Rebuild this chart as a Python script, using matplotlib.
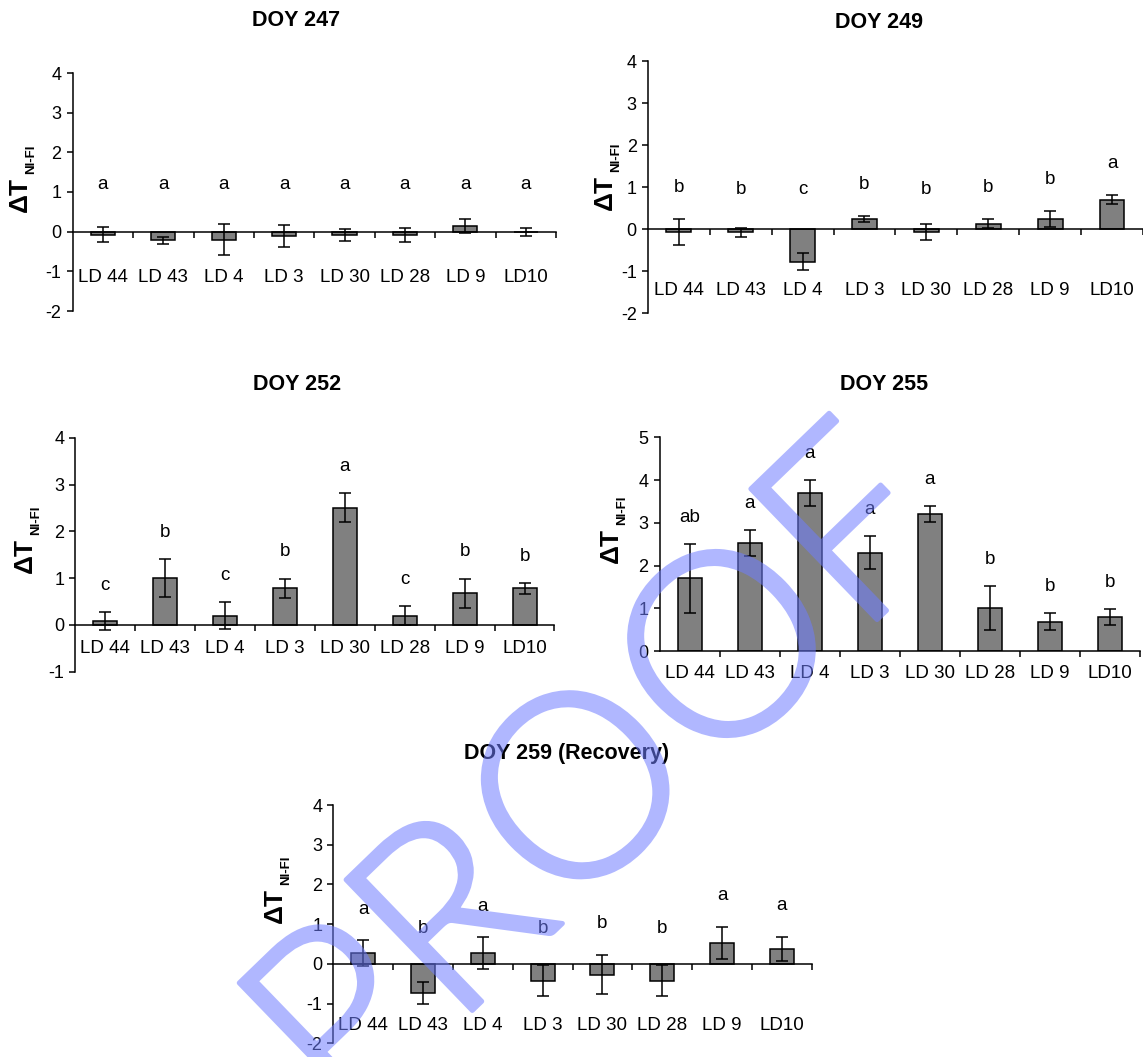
import numpy as np
import matplotlib
matplotlib.use('Agg')
import matplotlib.pyplot as plt
import matplotlib.patheffects as pe

plt.rcParams['font.family'] = ['Liberation Sans', 'DejaVu Sans']
plt.rcParams['axes.unicode_minus'] = False

# data
sites = ['LD 44', 'LD 43', 'LD 4', 'LD 3', 'LD 30', 'LD 28', 'LD 9', 'LD10']

doy247_mean = [-0.08, -0.22, -0.20, -0.10, -0.08, -0.08, 0.14, 0.00]
doy247_err = [0.19, 0.08, 0.40, 0.28, 0.15, 0.18, 0.18, 0.10]
doy247_grp = ['a', 'a', 'a', 'a', 'a', 'a', 'a', 'a']

doy249_mean = [-0.07, -0.08, -0.78, 0.24, -0.07, 0.13, 0.24, 0.70]
doy249_err = [0.30, 0.10, 0.20, 0.08, 0.19, 0.10, 0.20, 0.10]
doy249_grp = ['b', 'b', 'c', 'b', 'b', 'b', 'b', 'a']

doy252_mean = [0.08, 1.00, 0.20, 0.78, 2.50, 0.20, 0.68, 0.78]
doy252_err = [0.19, 0.40, 0.29, 0.21, 0.31, 0.20, 0.31, 0.12]
doy252_grp = ['c', 'b', 'c', 'b', 'a', 'c', 'b', 'b']

doy255_mean = [1.70, 2.52, 3.70, 2.30, 3.20, 1.00, 0.69, 0.80]
doy255_err = [0.81, 0.30, 0.30, 0.38, 0.19, 0.51, 0.20, 0.19]
doy255_grp = ['ab', 'a', 'a', 'a', 'a', 'b', 'b', 'b']

doy259_mean = [0.27, -0.73, 0.27, -0.42, -0.27, -0.42, 0.53, 0.38]
doy259_err = [0.32, 0.28, 0.40, 0.40, 0.50, 0.40, 0.40, 0.30]
doy259_grp = ['a', 'b', 'a', 'b', 'b', 'b', 'a', 'a']

W, H = 1143, 1057
fig = plt.figure(figsize=(W / 100, H / 100), dpi=100)


def px(x, y):
    return x / W, 1 - y / H


def rect(x0, x1, ytop, ybot):
    return [x0 / W, 1 - ybot / H, (x1 - x0) / W, (ybot - ytop) / H]


# title, mean, err, groups, axes rect(px), ylim, xmax, label y, letter offset, letter floor,
# title pos, ylabel pos
panels = [
    ('DOY 247', doy247_mean, doy247_err, doy247_grp, rect(72.7, 556, 73, 311), (-2, 4), 7.5,
     -1.15, 0.8, 1.2, (296, 20), (20, 212)),
    ('DOY 249', doy249_mean, doy249_err, doy249_grp, rect(647.8, 1143, 61, 313), (-2, 4), 7.44,
     -1.46, 0.75, 0.95, (879, 22), (605, 210)),
    ('DOY 252', doy252_mean, doy252_err, doy252_grp, rect(75.3, 554.5, 437.7, 671.7), (-1, 4), 7.5,
     -0.5, 0.57, 0.0, (297, 385), (25, 573)),
    ('DOY 255', doy255_mean, doy255_err, doy255_grp, rect(659.5, 1140, 437.3, 651), (0, 5), 7.5,
     -0.52, 0.62, 0.0, (884, 384), (611, 563)),
    ('DOY 259 (Recovery)', doy259_mean, doy259_err, doy259_grp, rect(333.3, 811.7, 805, 1043.3), (-2, 4), 7.5,
     -1.56, 0.78, 0.9, (567, 753), (275, 923)),
]

x = np.arange(len(sites))
for (title, mean, err, grp, r, ylim, xmax, lab_y, off, floor, tpos, ypos) in panels:
    ax = fig.add_axes(r)
    ax.bar(x, mean, width=0.4, color='#808080', edgecolor='black', linewidth=1.1, zorder=2)
    ax.errorbar(x, mean, yerr=err, fmt='none', ecolor='black', elinewidth=1.1,
                capsize=4.5, capthick=1.1, zorder=3)
    ax.set_xlim(-0.5, xmax)
    ax.set_ylim(*ylim)
    ax.set_yticks(np.arange(ylim[0], ylim[1] + 1))
    ax.set_xticks(np.arange(0.5, 8))
    ax.set_xticklabels([])
    for s in ['top', 'right']:
        ax.spines[s].set_visible(False)
    ax.spines['bottom'].set_position(('data', 0))
    ax.spines['bottom'].set_linewidth(1.1)
    ax.spines['left'].set_linewidth(1.1)
    ax.tick_params(axis='y', direction='out', length=4, width=1.1, labelsize=13, pad=4)
    ax.tick_params(axis='x', direction='out', length=4, width=1.1)
    ax.patch.set_alpha(0)

    for i, name in enumerate(sites):
        ax.text(i, lab_y, name, ha='center', va='center', fontsize=13.5, clip_on=False)
        top = max(mean[i] + err[i], 0)
        ax.text(i, max(top + off, floor), grp[i], ha='center', va='center', fontsize=13.5)

    tx, ty = px(*tpos)
    fig.text(tx, ty, title, ha='center', va='center', fontsize=15.5, fontweight='bold')
    lx, ly = px(*ypos)
    fig.text(lx, ly, '\u0394T', rotation=90, ha='center', va='bottom',
             fontsize=19, fontweight='bold')
    sx, sy = px(ypos[0] + 11, ypos[1] - 38)
    fig.text(sx, sy, 'NI-FI', rotation=90, ha='center', va='bottom',
             fontsize=9.5, fontweight='bold')


# watermark: opaque glyphs with a thickening stroke, made see-through afterwards
def fade(img, dpi):
    out = img.copy()
    out[..., 3] *= 0.55
    return out, 0, 0


wx, wy = px(605, 784)
wm = fig.text(wx, wy, 'PROOF', rotation=44, rotation_mode='anchor', ha='center', va='center',
              fontsize=185, family=['Lato', 'Liberation Sans'], fontweight=300,
              color='#6f7dff', zorder=10)
wm.set_path_effects([pe.Stroke(linewidth=3.5, foreground='#6f7dff'), pe.Normal()])
wm.set_agg_filter(fade)

fig.savefig('out.png', dpi=100)
